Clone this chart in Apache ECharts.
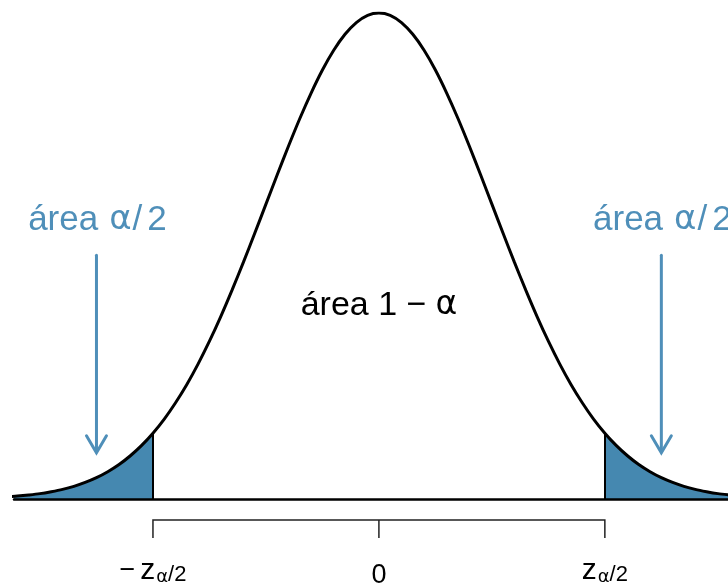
<!DOCTYPE html>
<html>
<head>
<meta charset="utf-8">
<script src="https://cdn.jsdelivr.net/npm/echarts@6/dist/echarts.min.js"></script>
<style>
  html, body { margin: 0; padding: 0; background: #fff; }
  #chart { width: 728px; height: 588px; }
</style>
</head>
<body>
<div id="chart"></div>
<script>
// z grid and the density heights
const zValues = [
  -3.3, -3.2, -3.1, -3.0, -2.9, -2.8, -2.7, -2.6, -2.5, -2.4, -2.3, -2.2,
  -2.1, -2.0, -1.9, -1.8, -1.7, -1.6, -1.5, -1.4, -1.3, -1.2, -1.1, -1.0,
  -0.9, -0.8, -0.7, -0.6, -0.5, -0.4, -0.3, -0.2, -0.1, 0.0,
  0.1, 0.2, 0.3, 0.4, 0.5, 0.6, 0.7, 0.8, 0.9, 1.0, 1.1, 1.2,
  1.3, 1.4, 1.5, 1.6, 1.7, 1.8, 1.9, 2.0, 2.1, 2.2, 2.3, 2.4,
  2.5, 2.6, 2.7, 2.8, 2.9, 3.0, 3.1, 3.2, 3.3
]
const density = [
  0.0017, 0.0024, 0.0033, 0.0044, 0.0060, 0.0079, 0.0104, 0.0136, 0.0175, 0.0224, 0.0283, 0.0355,
  0.0440, 0.0540, 0.0656, 0.0790, 0.0940, 0.1109, 0.1295, 0.1497, 0.1714, 0.1942, 0.2179, 0.2420,
  0.2661, 0.2897, 0.3123, 0.3332, 0.3521, 0.3683, 0.3814, 0.3910, 0.3970, 0.3989,
  0.3970, 0.3910, 0.3814, 0.3683, 0.3521, 0.3332, 0.3123, 0.2897, 0.2661, 0.2420, 0.2179, 0.1942,
  0.1714, 0.1497, 0.1295, 0.1109, 0.0940, 0.0790, 0.0656, 0.0540, 0.0440, 0.0355, 0.0283, 0.0224,
  0.0175, 0.0136, 0.0104, 0.0079, 0.0060, 0.0044, 0.0033, 0.0024, 0.0017
]
const criticalZ = [-2.0, 2.0]
const tickValues = [-2, 0, 2]
const tickSigns = ['\u2212', '', '']
const tickLabels = ['z', '0', 'z']
const tickSubs = ['\u03b1', '', '\u03b1']
const tailWord = '\u00e1rea'
const centerWord = '\u00e1rea 1 \u2212'

const BLUE_FILL = '#4588b0'
const BLUE = '#4f8fb9'
const FONT = '"Liberation Sans", Arial, sans-serif'
const GREEK = '"DejaVu Sans", sans-serif'

const chart = echarts.init(document.getElementById('chart'))
const curve = zValues.map((z, i) => [z, density[i]])
const heightAt = z => density[zValues.findIndex(v => Math.abs(v - z) < 1e-9)]

chart.setOption({
  animation: false,
  grid: { left: 14, right: 0, top: 13, bottom: 89 },
  xAxis: {
    type: 'value',
    min: -3.23,
    max: 3.09,
    z: 10,
    axisLine: { show: true, onZero: true, lineStyle: { color: '#000', width: 2.5 } },
    axisTick: { show: false },
    axisLabel: { show: false },
    splitLine: { show: false }
  },
  yAxis: { type: 'value', min: 0, max: 0.3989, show: false, splitLine: { show: false } },
  visualMap: {
    type: 'piecewise',
    show: false,
    seriesIndex: 0,
    dimension: 0,
    pieces: [
      { lte: criticalZ[0], color: BLUE_FILL },
      { gt: criticalZ[0], lt: criticalZ[1], color: 'rgba(255,255,255,0)' },
      { gte: criticalZ[1], color: BLUE_FILL }
    ]
  },
  series: [
    {
      type: 'line',
      data: curve,
      smooth: 0.3,
      symbol: 'none',
      lineStyle: { width: 0 },
      areaStyle: { opacity: 1 },
      silent: true,
      z: 1
    },
    {
      type: 'line',
      data: curve,
      smooth: 0.3,
      symbol: 'none',
      lineStyle: { color: '#000', width: 3 },
      silent: true,
      z: 3,
      markLine: {
        silent: true,
        symbol: 'none',
        label: { show: false },
        lineStyle: { color: '#000', width: 2, type: 'solid' },
        data: criticalZ.map(z => [{ coord: [z, 0] }, { coord: [z, heightAt(z)] }])
      }
    }
  ]
})

function textEl(x, y, text, rich) {
  return {
    type: 'text',
    x: x,
    y: y,
    style: {
      text: text,
      align: 'center', verticalAlign: 'middle',
      textAlign: 'center', textVerticalAlign: 'middle',
      rich: rich
    }
  }
}

function buildGraphics() {
  const px = (x, y) => chart.convertToPixel({ gridIndex: 0 }, [x, y])
  const base = px(0, 0)[1]
  const els = []

  // bracket under the axis
  const tx = tickValues.map(v => px(v, 0)[0])
  const y1 = base + 21
  const y2 = base + 39
  els.push({
    type: 'polyline',
    shape: { points: [[tx[0], y2], [tx[0], y1], [tx[2], y1], [tx[2], y2]] },
    style: { stroke: '#222', lineWidth: 1.5, fill: null }
  })
  els.push({
    type: 'line',
    shape: { x1: tx[1], y1: y1, x2: tx[1], y2: y2 },
    style: { stroke: '#222', lineWidth: 1.5 }
  })

  const tickRich = {
    m: { fontSize: 27, fontFamily: FONT, lineHeight: 30, fill: '#000', padding: [0, 5, 0, 0] },
    z: { fontSize: 30, fontFamily: FONT, lineHeight: 30, fill: '#000', padding: [0, 1, 0, 0] },
    g: { fontSize: 18, fontFamily: GREEK, lineHeight: 20, verticalAlign: 'bottom', fill: '#000' },
    s: { fontSize: 22, fontFamily: FONT, lineHeight: 22, verticalAlign: 'bottom', fill: '#000' },
    n: { fontSize: 27, fontFamily: FONT, lineHeight: 30, fill: '#000', padding: [10, 0, 0, 0] }
  }
  tickValues.forEach((v, i) => {
    let text
    if (tickSubs[i]) {
      text = (tickSigns[i] ? '{m|' + tickSigns[i] + '}' : '') +
        '{z|' + tickLabels[i] + '}{g|' + tickSubs[i] + '}{s|/2}'
    } else {
      text = '{n|' + tickLabels[i] + '}'
    }
    els.push(textEl(tx[i], base + 72, text, tickRich))
  })

  // tail annotations with arrows
  const tailRich = {
    w: { fontSize: 35, fontFamily: FONT, lineHeight: 40, fill: BLUE, padding: [0, 11, 0, 0] },
    g: { fontSize: 34, fontFamily: GREEK, lineHeight: 40, fill: BLUE, padding: [0, 1, 0, 0] },
    s: { fontSize: 35, fontFamily: FONT, lineHeight: 40, fill: BLUE, padding: [0, 5, 0, 0] },
    t: { fontSize: 35, fontFamily: FONT, lineHeight: 40, fill: BLUE }
  }
  ;[-2.5, 2.5].forEach(z => {
    const top = px(z, 0.200)
    const tip = px(z, 0.038)
    const lab = px(z, 0.229)
    els.push(textEl(lab[0] + 1, lab[1], '{w|' + tailWord + '}{g|\u03b1}{s|/}{t|2}', tailRich))
    els.push({
      type: 'line',
      shape: { x1: top[0], y1: top[1], x2: tip[0], y2: tip[1] - 1 },
      style: { stroke: BLUE, lineWidth: 3, lineCap: 'round' }
    })
    els.push({
      type: 'polyline',
      shape: { points: [[tip[0] - 10, tip[1] - 17], [tip[0], tip[1]], [tip[0] + 10, tip[1] - 17]] },
      style: { stroke: BLUE, lineWidth: 3, fill: null, lineCap: 'round', lineJoin: 'miter' }
    })
  })

  const mid = px(0, 0.159)
  const midRich = {
    w: { fontSize: 34, fontFamily: FONT, lineHeight: 40, fill: '#000', padding: [0, 9, 0, 0] },
    g: { fontSize: 33, fontFamily: GREEK, lineHeight: 40, fill: '#000' }
  }
  els.push(textEl(mid[0], mid[1], '{w|' + centerWord + '}{g|\u03b1}', midRich))

  chart.setOption({ graphic: { elements: els } })
}

buildGraphics()
</script>
</body>
</html>
